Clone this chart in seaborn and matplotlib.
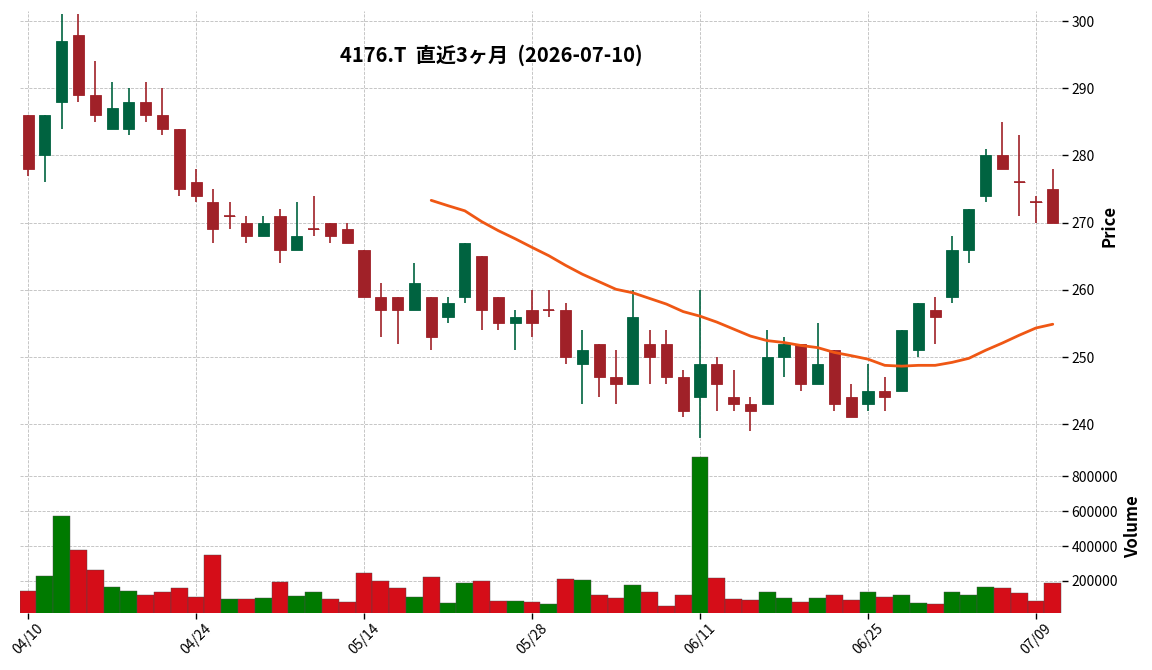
import numpy as np
import pandas as pd
import matplotlib
matplotlib.use("Agg")
import matplotlib.pyplot as plt
import seaborn as sns

# ---------------- data ----------------
dates = ["04/10", "04/13", "04/14", "04/15", "04/16", "04/17", "04/20", "04/21", "04/22", "04/23",
         "04/24", "04/27", "04/28", "04/30", "05/01", "05/07", "05/08", "05/11", "05/12", "05/13",
         "05/14", "05/15", "05/18", "05/19", "05/20", "05/21", "05/22", "05/25", "05/26", "05/27",
         "05/28", "05/29", "06/01", "06/02", "06/03", "06/04", "06/05", "06/08", "06/09", "06/10",
         "06/11", "06/12", "06/15", "06/16", "06/17", "06/18", "06/19", "06/22", "06/23", "06/24",
         "06/25", "06/26", "06/29", "06/30", "07/01", "07/02", "07/03", "07/06", "07/07", "07/08",
         "07/09", "07/10"]

opens = [286, 280, 288, 298, 289, 284, 284, 288, 286, 284, 276, 273, 271, 270, 268, 271, 266, 269, 270, 269,
         266, 259, 259, 257, 259, 256, 259, 265, 259, 255, 257, 257, 257, 249, 252, 247, 246, 252, 252, 247,
         244, 249, 244, 243, 243, 250, 252, 246, 251, 244, 243, 245, 245, 251, 257, 259, 266, 274, 280, 276,
         273, 275]
highs = [286, 286, 301, 301, 294, 291, 290, 291, 290, 284, 278, 275, 273, 271, 271, 272, 273, 274, 270, 270,
         266, 261, 259, 264, 259, 259, 267, 265, 259, 257, 260, 260, 258, 254, 252, 251, 260, 254, 254, 248,
         260, 250, 248, 244, 254, 253, 252, 255, 251, 246, 249, 247, 254, 258, 259, 268, 272, 281, 285, 283,
         274, 278]
lows = [277, 276, 284, 288, 285, 284, 283, 285, 283, 274, 273, 267, 269, 267, 268, 264, 266, 268, 267, 267,
        259, 253, 252, 257, 251, 255, 258, 254, 254, 251, 253, 256, 249, 243, 244, 243, 246, 246, 246, 241,
        238, 242, 242, 239, 243, 247, 245, 246, 242, 241, 242, 242, 245, 250, 252, 258, 264, 273, 278, 271,
        270, 270]
closes = [278, 286, 297, 289, 286, 287, 288, 286, 284, 275, 274, 269, 271, 268, 270, 266, 268, 269, 268, 267,
          259, 257, 257, 261, 253, 258, 267, 257, 255, 256, 255, 257, 250, 251, 247, 246, 256, 250, 247, 242,
          249, 246, 243, 242, 250, 252, 246, 249, 243, 241, 245, 244, 254, 258, 256, 266, 272, 280, 278, 276,
          273, 270]
volumes = [145000, 230000, 571000, 378000, 264000, 168000, 145000, 117000, 139000, 157000,
           105000, 350000, 94000, 94000, 100000, 196000, 111000, 139000, 94000, 77000,
           247000, 202000, 157000, 105000, 225000, 71000, 191000, 202000, 83000, 83000,
           77000, 66000, 213000, 208000, 117000, 100000, 179000, 134000, 54000, 122000,
           912000, 219000, 94000, 88000, 134000, 100000, 77000, 100000, 117000, 88000,
           139000, 105000, 117000, 71000, 66000, 134000, 117000, 168000, 162000, 128000,
           83000, 191000]

title = "4176.T  直近3ヶ月  (2026-07-10)"
ma_window = 25

# ---------------- styling ----------------
UP, DOWN = "#006340", "#A02128"
VUP, VDOWN = "#007a00", "#d50d18"
MA_COLOR = "#ef5714"

sns.set_theme(style="white")
plt.rcParams["font.family"] = ["Noto Sans CJK JP", "DejaVu Sans"]
for k in ("text.color", "axes.labelcolor", "xtick.color", "ytick.color"):
    plt.rcParams[k] = "black"

df = pd.DataFrame({"date": dates, "open": opens, "high": highs, "low": lows,
                   "close": closes, "volume": volumes})
df["x"] = np.arange(len(df))
df["ma"] = df["close"].rolling(ma_window).mean()

up = df["close"] > df["open"]
cc = np.where(up, UP, DOWN)
vup = df["close"] > df["close"].shift(1)
vc = np.where(vup, VUP, VDOWN)

fig = plt.figure(figsize=(11.52, 6.70), dpi=100)
left, right = 20 / 1152, 1062 / 1152
ax = fig.add_axes([left, 1 - 441 / 670, right - left, 430 / 670])
axv = fig.add_axes([left, 1 - 613 / 670, right - left, 172 / 670], sharex=ax)

grid_kw = dict(color="#bdbdbd", linestyle="--", linewidth=0.6)

# candles
ax.vlines(df["x"], df["low"], df["high"], colors=cc, linewidth=1.2, zorder=3)
body_lo = np.minimum(df["open"], df["close"])
body_h = np.abs(df["close"] - df["open"])
ax.bar(df["x"], body_h, bottom=body_lo, width=0.66, color=cc, edgecolor=cc,
       linewidth=0.6, zorder=4)
doji = body_h == 0
ax.hlines(df.loc[doji, "close"], df.loc[doji, "x"] - 0.33, df.loc[doji, "x"] + 0.33,
          colors=cc[doji.values], linewidth=1.2, zorder=4)

# moving average
sns.lineplot(data=df, x="x", y="ma", ax=ax, color=MA_COLOR, linewidth=2.0, zorder=5)

# volume
axv.bar(df["x"], df["volume"], width=1.0, color=vc, edgecolor="#4a4a4a",
        linewidth=0.3, zorder=3)

# axes setup
ax.set_xlim(-0.48, 61.55)
ax.set_ylim(237.5, 301.5)
axv.set_ylim(16000, 1003000)

ticks = np.arange(0, len(df), 10)
axv.set_xticks(ticks)
axv.set_xticklabels([dates[i] for i in ticks], rotation=45, fontsize=10)
ax.tick_params(axis="x", which="both", bottom=False, labelbottom=False)

ax.set_yticks([240, 250, 260, 270, 280, 290, 300])
axv.set_yticks([200000, 400000, 600000, 800000])
axv.ticklabel_format(axis="y", style="plain")

for a in (ax, axv):
    for s in a.spines.values():
        s.set_visible(False)
    a.yaxis.tick_right()
    a.yaxis.set_label_position("right")
    a.tick_params(axis="y", left=False, right=True, length=4, width=1, color="black",
                  labelsize=10, pad=3, labelcolor="black")
    a.grid(True, axis="both", **grid_kw)
    a.set_axisbelow(True)
    a.set_xlabel("")

axv.tick_params(axis="x", bottom=True, length=4, width=1, color="black", labelsize=10, pad=2,
                labelcolor="black")
ax.set_ylabel("Price", fontsize=12, fontweight="bold", labelpad=4, color="black")
axv.set_ylabel("Volume", fontsize=12, fontweight="bold", labelpad=4, color="black")

fig.text(491 / 1152, 1 - 55 / 670, title, ha="center", va="center",
         fontsize=14.5, fontweight="bold", color="black")

fig.savefig("out.png", dpi=100)
